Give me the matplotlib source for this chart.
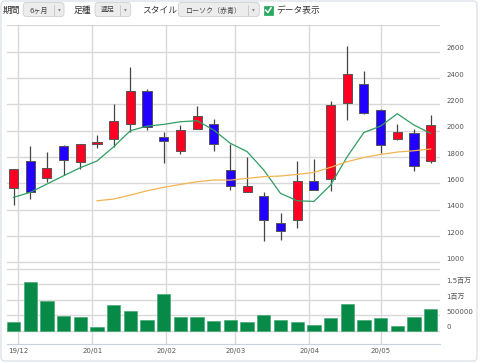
import numpy as np
import matplotlib
matplotlib.use("Agg")
import matplotlib.pyplot as plt
import matplotlib.dates as mdates
from matplotlib.patches import FancyBboxPatch, Rectangle
from matplotlib.transforms import ScaledTranslation

plt.rcParams['font.family'] = ['DejaVu Sans', 'Noto Sans CJK JP']

# weekly candles (dated by Friday)
dates = np.arange(np.datetime64('2019-11-29'), np.datetime64('2020-05-23'), np.timedelta64(7, 'D'))
opens = [1562, 1770, 1638, 1881, 1759, 1899, 1934, 2051, 2299, 1952, 1848, 2010, 2051,
         1701, 1537, 1501, 1301, 1324, 1615, 1630, 2208, 2352, 2154, 1939, 1980, 1772]
highs = [1706, 1884, 1841, 1891, 1901, 1965, 2203, 2481, 2319, 1992, 2043, 2187, 2091,
         1899, 1803, 1532, 1377, 1770, 1787, 2225, 2646, 2451, 2162, 2048, 2010, 2119]
lows = [1435, 1481, 1613, 1663, 1706, 1871, 1873, 1992, 2005, 1757, 1823, 2010, 1848,
        1549, 1537, 1162, 1170, 1263, 1549, 1542, 2084, 2127, 1830, 1929, 1696, 1757]
closes = [1706, 1537, 1714, 1777, 1896, 1914, 2076, 2299, 2030, 1924, 2005, 2109, 1899,
          1580, 1577, 1324, 1235, 1615, 1549, 2197, 2428, 2132, 1889, 1990, 1734, 2046]
volumes = [278e3, 1563e3, 953e3, 493e3, 439e3, 118e3, 824e3, 642e3, 353e3, 1199e3, 439e3,
           439e3, 321e3, 353e3, 300e3, 525e3, 343e3, 300e3, 193e3, 418e3, 867e3, 343e3,
           418e3, 161e3, 439e3, 717e3]
ma_short = [1494, 1532, 1595, 1658, 1719, 1770, 1878, 2000, 2035, 2048, 2068, 2076, 2005,
            1904, 1841, 1701, 1524, 1468, 1463, 1587, 1803, 1987, 2035, 2129, 2043, 1980]
ma_long = [1468, 1481, 1511, 1544, 1570, 1592, 1613, 1625, 1625, 1638, 1651, 1656, 1668,
           1683, 1722, 1765, 1797, 1820, 1838, 1848, 1861]
price_ticks = [1000, 1200, 1400, 1600, 1800, 2000, 2200, 2400, 2600, 2800]
price_labels = ['1000', '1200', '1400', '1600', '1800', '2000', '2200', '2400', '2600', '']
vol_ticks = [0, 500000, 1000000, 1500000, 2000000]
vol_labels = ['0', '500000', '1百万', '1.5百万', '']

W, H = 480, 363
fig = plt.figure(figsize=(4.8, 3.63), dpi=100)
fig.patch.set_facecolor('white')

def rect(x0, y0, x1, y1):
    return [x0 / W, 1 - y1 / H, (x1 - x0) / W, (y1 - y0) / H]

# overlay for header / frame
ov = fig.add_axes([0, 0, 1, 1], zorder=-1)
ov.set_xlim(0, W)
ov.set_ylim(H, 0)
ov.axis('off')
ov.add_patch(FancyBboxPatch((1, 1), 476, 360, boxstyle="round,pad=0,rounding_size=4",
                            fc='white', ec='#dde2e8', lw=1))

def dropdown(x0, x1, xdiv, label):
    ov.add_patch(FancyBboxPatch((x0, 2.5), x1 - x0, 14, boxstyle="round,pad=0,rounding_size=3",
                                fc='#ececec', ec='#d0d0d0', lw=0.6))
    ov.plot([xdiv, xdiv], [5, 14.5], color='#c4c4c4', lw=0.6)
    ov.text((x0 + xdiv) / 2, 10, label, fontsize=5, color='#444', ha='center', va='center')
    ov.text((xdiv + x1) / 2, 10, '▾', fontsize=4, color='#888', ha='center', va='center')

ov.text(3, 10, '期間', fontsize=6.3, color='#333', va='center')
dropdown(23.3, 64, 54.3, '6ヶ月')
ov.text(74, 10, '足種', fontsize=6.3, color='#333', va='center')
dropdown(95, 130.7, 120, '週足')
ov.text(141.7, 10, 'スタイル', fontsize=6.3, color='#333', va='center')
dropdown(178.3, 259.3, 248.3, 'ローソク（赤青）')
ov.add_patch(Rectangle((263.5, 5.5), 9.5, 9.5, fc='#2aa860', ec='#2aa860', lw=0.5))
ov.plot([265.6, 267.8, 271.0], [10.2, 12.6, 7.8], color='white', lw=1.1)
ov.text(276, 10, 'データ表示', fontsize=6.3, color='#333', va='center')

xmin = np.datetime64('2019-12-01') - np.timedelta64(117, 'h')
xmax = np.datetime64('2020-05-01') + np.timedelta64(598, 'h')

grid_c = '#d9d9d9'

# price panel
ax = fig.add_axes(rect(6.7, 25.4, 440, 268.3))
ax.set_xlim(xmin, xmax)
ax.set_ylim(955, 2800)
for d, o, h, l, c in zip(dates, opens, highs, lows, closes):
    col = '#ff0022' if c >= o else '#2200ff'
    ax.vlines(d, l, h, color='#444444', lw=0.9, zorder=3)
    ax.bar(d, max(abs(c - o), 8), bottom=min(o, c), width=3.8, color=col,
           edgecolor='#555555', lw=0.7, zorder=4)
ax.plot(dates, ma_short, color='#2e9e62', lw=0.9, zorder=5)
ax.plot(dates[5:], ma_long, color='#f2b450', lw=0.9, zorder=5)

ax.set_yticks(price_ticks)
ax.set_yticklabels(price_labels)
ax.yaxis.tick_right()
ax.tick_params(axis='y', length=0, pad=4.8, labelsize=5, labelcolor='#555555')
ax.tick_params(axis='x', length=0, labelbottom=False)
ax.xaxis.set_major_locator(mdates.MonthLocator())
ax.grid(True, color=grid_c, lw=1.0)
ax.set_axisbelow(True)
for s in ax.spines.values():
    s.set_visible(False)
for lab in ax.get_yticklabels():
    lab.set_transform(lab.get_transform() + ScaledTranslation(0, 4 / 100, fig.dpi_scale_trans))

# volume panel
vx = fig.add_axes(rect(6.7, 268.3, 440, 344))
vx.set_xlim(xmin, xmax)
vx.set_ylim(-420000, 2020000)
vx.bar(dates, volumes, width=5.6, color='#078a48', edgecolor='#3aa36a', lw=0.4, zorder=3)
vx.set_yticks(vol_ticks)
vx.set_yticklabels(vol_labels)
vx.yaxis.tick_right()
vx.tick_params(axis='y', length=0, pad=4.8, labelsize=5, labelcolor='#555555')
vx.xaxis.set_major_locator(mdates.MonthLocator())
vx.xaxis.set_major_formatter(mdates.DateFormatter('%y/%m'))
vx.tick_params(axis='x', length=0, pad=3, labelsize=5, labelcolor='#555555')
vx.grid(True, color=grid_c, lw=1.0)
vx.set_axisbelow(True)
for s in vx.spines.values():
    s.set_visible(False)
vx.spines['bottom'].set_visible(True)
vx.spines['bottom'].set_color('#c8d2de')
vx.spines['bottom'].set_linewidth(0.8)
for lab in vx.get_yticklabels():
    lab.set_transform(lab.get_transform() + ScaledTranslation(0, 4 / 100, fig.dpi_scale_trans))

fig.savefig('out.png', dpi=100)
